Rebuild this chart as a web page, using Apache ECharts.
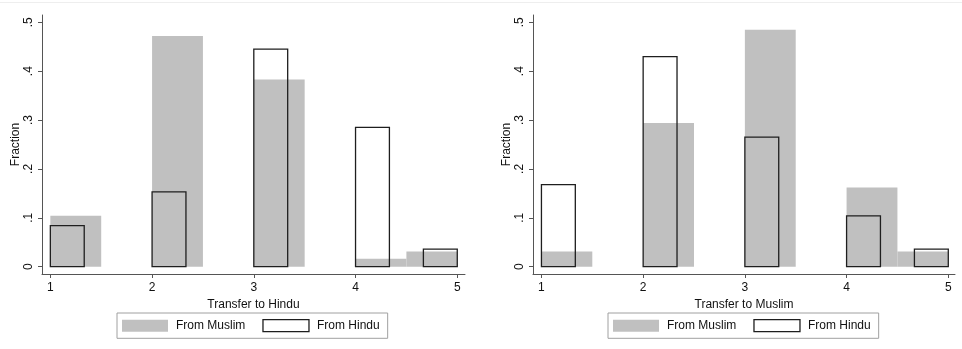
<!DOCTYPE html>
<html><head><meta charset="utf-8">
<script src="https://cdn.jsdelivr.net/npm/echarts@6/dist/echarts.min.js"></script>
<style>html,body{margin:0;padding:0;background:#fff}#c{width:962px;height:349px}</style>
</head><body><div id="c"></div>
<script>
// Bin edges
const muslimBins = [[1, 1.5], [2, 2.5], [3, 3.5], [4, 4.5], [4.5, 5]];
const hinduBins = [[1, 1.333], [2, 2.333], [3, 3.333], [4, 4.333], [4.667, 5]];
// Fractions, left panel (Transfer to Hindu)
const leftMuslim = [0.104, 0.472, 0.383, 0.016, 0.031];
const leftHindu = [0.084, 0.153, 0.445, 0.285, 0.036];
// Fractions, right panel (Transfer to Muslim)
const rightMuslim = [0.031, 0.294, 0.485, 0.162, 0.031];
const rightHindu = [0.168, 0.430, 0.265, 0.104, 0.036];
// Ticks
const xTickValues = [1, 2, 3, 4, 5];
const xTickLabels = ['1', '2', '3', '4', '5'];
const yTickValues = [0, 0.1, 0.2, 0.3, 0.4, 0.5];
const yTickLabels = ['0', '.1', '.2', '.3', '.4', '.5'];
const panelTitles = ['Transfer to Hindu', 'Transfer to Muslim'];
const seriesNames = ['From Muslim', 'From Hindu'];

const FONT = 'Liberation Sans, Arial, sans-serif';
const AXIS_COLOR = '#555';
const GRAY = '#c0c0c0';
const OUT = '#1e1e1e';

function rows(bins, vals) { return bins.map((b, i) => [b[0], b[1], vals[i]]); }

function renderer(kind) {
  return function (params, api) {
    const p0 = api.coord([api.value(0), api.value(2)]);
    const p1 = api.coord([api.value(1), 0]);
    const style = kind === 'fill'
      ? { fill: GRAY, stroke: null }
      : { fill: 'transparent', stroke: OUT, lineWidth: 1.3 };
    return { type: 'rect', shape: { x: p0[0], y: p0[1], width: p1[0] - p0[0], height: p1[1] - p0[1] }, style };
  };
}

const grids = [
  { left: 42, top: 15, width: 423, height: 259 },
  { left: 533, top: 15, width: 422, height: 259 }
];
const xRanges = [[0.918, 5.076], [0.917, 5.066]];

function xAxis(i) {
  return {
    type: 'value', gridIndex: i, min: xRanges[i][0], max: xRanges[i][1],
    name: panelTitles[i], nameLocation: 'middle', nameGap: 19,
    nameTextStyle: { fontFamily: FONT, fontSize: 12, color: '#111' },
    axisLine: { show: true, onZero: false, lineStyle: { color: AXIS_COLOR, width: 1 } },
    axisTick: { show: true, length: 4, lineStyle: { color: AXIS_COLOR }, customValues: xTickValues },
    axisLabel: { fontFamily: FONT, fontSize: 12, color: '#111', margin: 8, customValues: xTickValues,
      formatter: v => xTickLabels[xTickValues.indexOf(v)] },
    splitLine: { show: false }
  };
}
function yAxis(i) {
  return {
    type: 'value', gridIndex: i, min: -0.015, max: 0.515,
    name: 'Fraction', nameLocation: 'middle', nameGap: 20,
    nameTextStyle: { fontFamily: FONT, fontSize: 12, color: '#111' },
    axisLine: { show: true, onZero: false, lineStyle: { color: AXIS_COLOR, width: 1 } },
    axisTick: { show: true, length: 4, lineStyle: { color: AXIS_COLOR }, customValues: yTickValues },
    axisLabel: { fontFamily: FONT, fontSize: 12, color: '#111', margin: 7, rotate: 90, customValues: yTickValues,
      formatter: v => yTickLabels[yTickValues.findIndex(t => Math.abs(t - v) < 1e-9)] },
    splitLine: { show: false }
  };
}
function legend(left) {
  return {
    left: left, top: 313, orient: 'horizontal',
    padding: [6, 8, 6, 5], itemGap: 17, itemWidth: 46, itemHeight: 12,
    borderColor: '#a0a0a0', borderWidth: 1, selectedMode: false,
    textStyle: { fontFamily: FONT, fontSize: 12, color: '#111', padding: [0, 0, 0, 3] },
    data: [
      { name: seriesNames[0], icon: 'rect', itemStyle: { color: GRAY, borderWidth: 0 } },
      { name: seriesNames[1], icon: 'rect', itemStyle: { color: '#fff', borderColor: OUT, borderWidth: 1.3 } }
    ]
  };
}

const series = [];
[[leftMuslim, leftHindu], [rightMuslim, rightHindu]].forEach((pair, i) => {
  series.push({ type: 'custom', name: seriesNames[0], xAxisIndex: i, yAxisIndex: i,
    renderItem: renderer('fill'), encode: { x: [0, 1], y: 2 },
    itemStyle: { color: GRAY }, data: rows(muslimBins, pair[0]), z: 1 });
  series.push({ type: 'custom', name: seriesNames[1], xAxisIndex: i, yAxisIndex: i,
    renderItem: renderer('outline'), encode: { x: [0, 1], y: 2 },
    itemStyle: { color: '#fff', borderColor: OUT, borderWidth: 1.3 }, data: rows(hinduBins, pair[1]), z: 2 });
});

const chart = echarts.init(document.getElementById('c'), null, { renderer: 'canvas' });
chart.setOption({
  backgroundColor: '#fff',
  animation: false,
  grid: grids,
  xAxis: [xAxis(0), xAxis(1)],
  yAxis: [yAxis(0), yAxis(1)],
  legend: [legend(117), legend(608)],
  series: series,
  graphic: [{ type: 'line', shape: { x1: 0, y1: 2.5, x2: 962, y2: 2.5 }, style: { stroke: '#eeeeee', lineWidth: 1 } }]
});
</script></body></html>
